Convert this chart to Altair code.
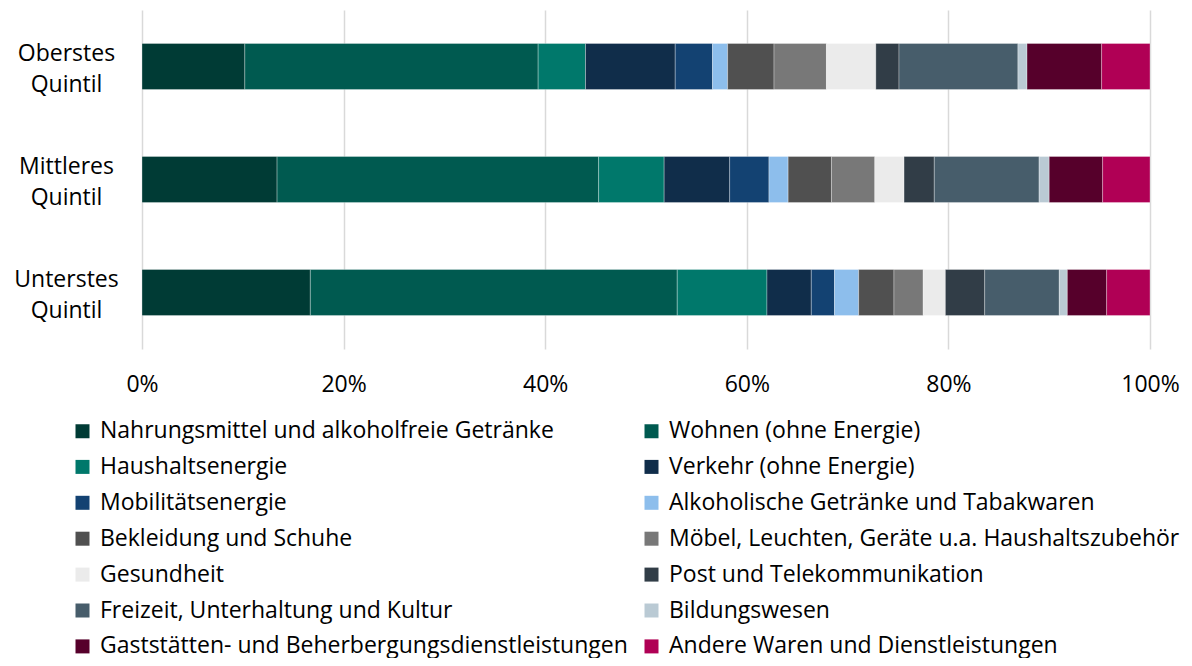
import altair as alt
import pandas as pd

quintiles = ["Oberstes Quintil", "Mittleres Quintil", "Unterstes Quintil"]

categories = [
    "Nahrungsmittel und alkoholfreie Getränke",
    "Wohnen (ohne Energie)",
    "Haushaltsenergie",
    "Verkehr (ohne Energie)",
    "Mobilitätsenergie",
    "Alkoholische Getränke und Tabakwaren",
    "Bekleidung und Schuhe",
    "Möbel, Leuchten, Geräte u.a. Haushaltszubehör",
    "Gesundheit",
    "Post und Telekommunikation",
    "Freizeit, Unterhaltung und Kultur",
    "Bildungswesen",
    "Gaststätten- und Beherbergungsdienstleistungen",
    "Andere Waren und Dienstleistungen",
]

colors = [
    "#003B35", "#005A50", "#00786B", "#102D4A", "#134272", "#8DBEEC",
    "#505050", "#787878", "#EBEBEB", "#313D47", "#475D6B", "#BACAD4",
    "#56002B", "#B00055",
]

oberstes = [10.2, 29.1, 4.7, 8.9, 3.7, 1.5, 4.6, 5.2, 4.9, 2.3, 11.8, 0.9, 7.4, 4.8]
mittleres = [13.4, 31.9, 6.5, 6.5, 3.9, 1.9, 4.3, 4.3, 2.9, 3.0, 10.4, 1.0, 5.3, 4.7]
unterstes = [16.7, 36.4, 8.9, 4.4, 2.3, 2.4, 3.5, 2.9, 2.2, 3.9, 7.4, 0.8, 3.9, 4.3]

series = [oberstes, mittleres, unterstes]
rows = []
for q, vals in zip(quintiles, series):
    for i, (c, v) in enumerate(zip(categories, vals)):
        rows.append({"Quintil": q, "Kategorie": c, "Anteil": v, "idx": i})
df = pd.DataFrame(rows)

# legend fills column by column: reorder so it reads row by row in two columns
legend_order = list(range(0, len(categories), 2)) + list(range(1, len(categories), 2))
dom = [categories[i] for i in legend_order]
rng = [colors[i] for i in legend_order]

FONT = "Open Sans"
FS = 23

chart = alt.Chart(df).mark_bar(
    stroke="#ffffff", strokeWidth=0.6, strokeOpacity=0.5
).encode(
    y=alt.Y(
        "Quintil:N",
        sort=quintiles,
        title=None,
        scale=alt.Scale(paddingInner=0.593, paddingOuter=0.2965),
        axis=alt.Axis(
            domain=False, ticks=False, grid=False,
            labelExpr="split(datum.label, ' ')",
            labelAlign="center", labelBaseline="middle",
            labelPadding=76, labelFontSize=FS, labelLineHeight=31,
            labelOffset=-13,
            labelColor="#000000", labelFont=FONT,
        ),
    ),
    x=alt.X(
        "Anteil:Q",
        stack="normalize",
        title=None,
        scale=alt.Scale(domain=[0, 1], nice=False),
        axis=alt.Axis(
            format=".0%", values=[0, 0.2, 0.4, 0.6, 0.8, 1.0],
            domain=False, ticks=False, grid=True, labelFlush=False,
            gridColor="#d9d9d9", gridWidth=1.5,
            labelFontSize=FS, labelPadding=24, labelColor="#000000",
            labelFont=FONT,
        ),
    ),
    color=alt.Color(
        "Kategorie:N",
        scale=alt.Scale(domain=dom, range=rng),
        legend=alt.Legend(
            title=None,
            orient="none",
            legendX=-71,
            legendY=409.5,
            columns=2,
            symbolType="square",
            symbolSize=196,
            symbolStrokeWidth=0,
            labelFontSize=FS,
            labelFont=FONT,
            labelColor="#000000",
            labelOffset=6,
            rowPadding=11.9,
            columnPadding=12,
            labelLimit=700,
            padding=0,
        ),
    ),
    order=alt.Order("idx:Q", sort="ascending"),
).properties(
    width=1008,
    height=339,
    autosize=alt.AutoSizeParams(type="none"),
    padding={"left": 134, "top": 2, "right": 34, "bottom": 309},
).configure_view(stroke=None)

chart.save("out.html", embed_options={"renderer": "svg", "actions": False})
